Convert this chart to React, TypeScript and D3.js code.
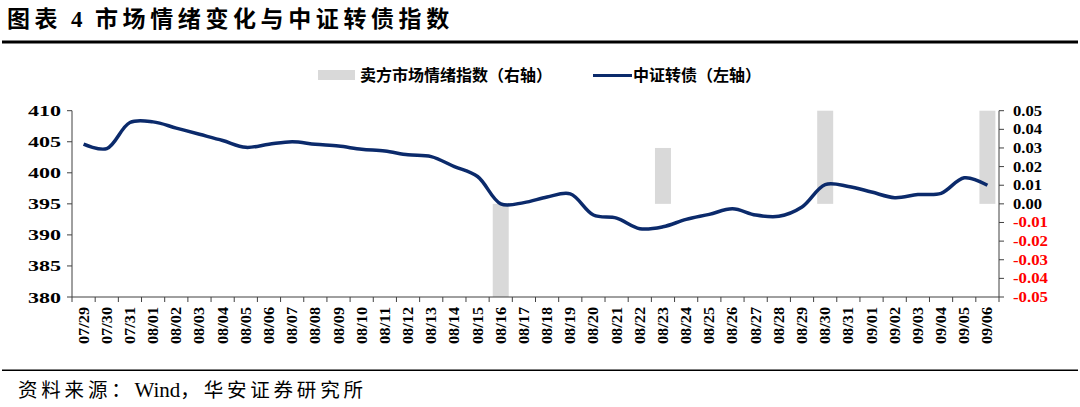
import React from "react";
import * as d3 from "d3";

const dates = ["07/29","07/30","07/31","08/01","08/02","08/03","08/04","08/05","08/06","08/07","08/08","08/09","08/10","08/11","08/12","08/13","08/14","08/15","08/16","08/17","08/18","08/19","08/20","08/21","08/22","08/23","08/24","08/25","08/26","08/27","08/28","08/29","08/30","08/31","09/01","09/02","09/03","09/04","09/05","09/06"];
const bondIndex = [404.6,403.9,408.1,408.2,407.2,406.2,405.2,404.1,404.6,405.0,404.6,404.3,403.8,403.5,402.9,402.6,401.0,399.4,395.0,395.2,396.1,396.6,393.2,392.7,391.0,391.3,392.5,393.3,394.2,393.2,393.0,394.5,398.1,397.8,396.9,396.0,396.5,396.7,399.2,398.0];
const sentiment = [0,0,0,0,0,0,0,0,0,0,0,0,0,0,0,0,0,0,-0.05,0,0,0,0,0,0,0.03,0,0,0,0,0,0,0.05,0,0,0,0,0,0,0.05];
const leftTicks = [380,385,390,395,400,405,410];
const rightTicks = [-0.05,-0.04,-0.03,-0.02,-0.01,0,0.01,0.02,0.03,0.04,0.05];

const W = 1080, H = 407;
const L = 72, R = 999, T = 110.7, B = 297;
const serif = "'Liberation Serif','Times New Roman',serif";
const cjk = "'Noto Sans CJK SC','Noto Sans',sans-serif";
const axisColor = "#404040";

export default function App() {
  const x = d3.scaleBand<string>().domain(dates).range([L, R]).paddingInner(0.31).paddingOuter(0.155);
  const xb = d3.scaleBand<string>().domain(dates).range([L, R]);
  const yL = d3.scaleLinear().domain([380, 410]).range([B, T]);
  const yR = d3.scaleLinear().domain([-0.05, 0.05]).range([B, T]);
  const line = d3.line<number>()
    .x((_, i) => (xb(dates[i]) as number) + xb.bandwidth() / 2)
    .y((d) => yL(d))
    .curve(d3.curveCatmullRom.alpha(0.5));
  const boundaries = dates.map((d) => xb(d) as number).concat([R]);

  return (
    <svg width={W} height={H} style={{ position: "absolute", left: 0, top: 0, background: "#fff" }}>
      {/* Title */}
      <text x={7} y={27} fontFamily={cjk} fontWeight="bold" fontSize={23} letterSpacing={4.6} fill="#000">图表</text>
      <text x={71} y={27} fontFamily={serif} fontWeight="bold" fontSize={23} fill="#000">4</text>
      <text x={95} y={27} fontFamily={cjk} fontWeight="bold" fontSize={23} letterSpacing={4.6} fill="#000">市场情绪变化与中证转债指数</text>
      <rect x={2} y={40.5} width={1076} height={3} fill="#000" />

      {/* Legend */}
      <rect x={318} y={70} width={37} height={10} fill="#d9d9d9" />
      <text x={360} y={81} fontFamily={cjk} fontWeight="bold" fontSize={16} fill="#000">卖方市场情绪指数（右轴）</text>
      <line x1={593} x2={632} y1={75.5} y2={75.5} stroke="#0b2a6b" strokeWidth={3} />
      <text x={633} y={81} fontFamily={cjk} fontWeight="bold" fontSize={16} fill="#000">中证转债（左轴）</text>

      {/* Bars */}
      {sentiment.map((v, i) =>
        v === 0 ? null : (
          <rect key={i} x={x(dates[i]) as number} width={x.bandwidth()}
            y={Math.min(yR(v), yR(0))} height={Math.abs(yR(v) - yR(0))} fill="#d9d9d9" />
        )
      )}

      {/* Line */}
      <path d={line(bondIndex) || ""} fill="none" stroke="#0b2a6b" strokeWidth={3.5} strokeLinejoin="round" />

      {/* Left axis */}
      <line x1={L} x2={L} y1={T} y2={B} stroke={axisColor} strokeWidth={1} />
      {leftTicks.map((t) => (
        <g key={t}>
          <line x1={L - 5} x2={L} y1={yL(t)} y2={yL(t)} stroke={axisColor} />
          <text x={61} y={yL(t) + 5.5} textAnchor="end" fontFamily={serif} fontWeight="bold" fontSize={15.5}
            textLength={33} lengthAdjust="spacingAndGlyphs" fill="#000">{t}</text>
        </g>
      ))}

      {/* Right axis */}
      <line x1={R} x2={R} y1={T} y2={B} stroke={axisColor} strokeWidth={1} />
      {rightTicks.map((t) => {
        const neg = t < 0;
        const label = t.toFixed(2);
        return (
          <g key={t}>
            <line x1={R} x2={R + 5} y1={yR(t)} y2={yR(t)} stroke={axisColor} />
            <text x={1013} y={yR(t) + 5} fontFamily={serif} fontWeight="bold" fontSize={14.5}
              textLength={neg ? 35 : 29} lengthAdjust="spacingAndGlyphs" fill={neg ? "#ff0000" : "#000"}>{label}</text>
          </g>
        );
      })}

      {/* X axis */}
      <line x1={L} x2={R} y1={B} y2={B} stroke={axisColor} strokeWidth={1} />
      {boundaries.map((bx, i) => (
        <line key={i} x1={bx} x2={bx} y1={B} y2={B + 5} stroke={axisColor} />
      ))}
      {dates.map((d) => {
        const cx = (xb(d) as number) + xb.bandwidth() / 2;
        return (
          <text key={d} transform={`translate(${cx + 5},${307}) rotate(-90)`} textAnchor="end"
            fontFamily={serif} fontWeight="bold" fontSize={14} textLength={37} lengthAdjust="spacingAndGlyphs" fill="#000">{d}</text>
        );
      })}

      {/* Footer */}
      <rect x={2} y={369.5} width={1076} height={1.5} fill="#000" />
      <text x={18} y={397} fontFamily={cjk} fontSize={19.5} letterSpacing={3.8} fill="#000">
        资料来源：<tspan fontFamily={serif} fontSize={21} letterSpacing={0}>Wind</tspan>，华安证券研究所
      </text>
    </svg>
  );
}
